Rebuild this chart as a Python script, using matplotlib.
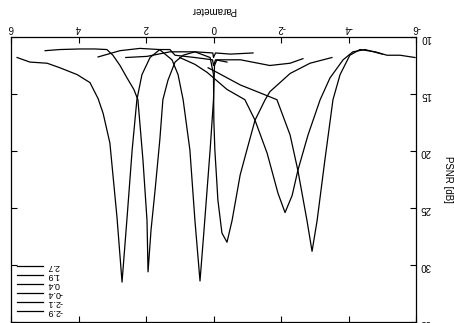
import matplotlib
matplotlib.use('Agg')
from matplotlib import pyplot as plt

# estimated parameter vs PSNR, one curve per true parameter value
labels = ['-2.9', '-2.1', '-0.4', '0.4', '1.9', '2.7']

p_m29 = [0.16, -0.1, -0.79, -1.38, -1.88, -2.27, -2.5, -2.77, -2.92, -3.07, -3.3, -3.54, -3.75, -4.04, -4.34, -4.79, -5.14, -5.53, -5.97]
v_m29 = [12.7, 13.1, 14.2, 14.9, 15.5, 18.6, 21.7, 26.1, 28.8, 26.1, 20.8, 15.5, 13.3, 11.6, 11.1, 11.3, 11.6, 11.6, 11.8]

p_m21 = [1.0, 0.55, 0.19, -0.4, -0.93, -1.23, -1.59, -1.91, -2.12, -2.33, -2.5, -2.8, -3.16, -3.45, -3.84, -4.13, -4.49, -5.0]
v_m21 = [11.8, 12.4, 13.1, 14.6, 15.5, 17.3, 20.2, 23.7, 25.4, 23.9, 21.7, 18.6, 15.5, 13.6, 12.0, 11.3, 11.1, 11.5]

p_m04 = [2.6, 1.97, 1.29, 0.55, 0.1, 0.0, -0.01, -0.04, -0.1, -0.13, -0.25, -0.4, -0.55, -0.79, -0.99, -1.23, -1.53, -1.67, -2.27, -2.86, -3.51]
v_m04 = [11.8, 11.7, 11.3, 11.3, 11.8, 13.3, 17.3, 19.9, 22.8, 24.3, 27.2, 28.0, 26.1, 22.1, 19.9, 17.3, 15.5, 14.8, 13.2, 12.3, 11.8]

p_04 = [3.42, 2.77, 2.18, 1.6, 1.23, 1.05, 0.9, 0.7, 0.55, 0.4, 0.28, 0.1, 0.0, -0.03, -0.1, -0.8, -1.67, -2.27, -2.65]
v_04 = [11.75, 11.2, 11.0, 11.1, 12.0, 13.3, 15.5, 19.9, 26.1, 31.4, 26.9, 19.9, 15.5, 12.5, 12.0, 12.0, 12.5, 12.3, 11.9]

p_19 = [4.99, 4.55, 3.96, 3.51, 3.16, 2.98, 2.77, 2.56, 2.36, 2.24, 2.09, 1.97, 1.94, 1.85, 1.73, 1.59, 1.5, 1.35, 1.14, 0.9, 0.55, 0.02, 0.0, -0.06, -0.5, -1.17]
v_19 = [11.2, 11.1, 11.05, 11.05, 11.1, 11.6, 12.5, 13.6, 14.6, 15.5, 20.8, 26.1, 30.6, 26.9, 23.4, 19.0, 15.5, 13.8, 12.2, 11.6, 11.3, 11.4, 11.8, 11.4, 11.5, 11.4]

p_27 = [5.82, 5.44, 4.93, 4.55, 4.04, 3.66, 3.42, 3.27, 3.07, 2.86, 2.71, 2.56, 2.41, 2.27, 2.12, 1.88, 1.59, 1.29, 1.14, 0.55, 0.03, 0.0, -0.06, -0.4]
v_27 = [11.8, 12.2, 12.3, 12.7, 13.3, 14.0, 15.4, 16.7, 19.3, 25.8, 31.5, 25.8, 19.9, 15.5, 13.3, 11.8, 11.1, 11.1, 11.6, 11.8, 12.0, 12.5, 12.0, 12.2]

series = [(p_m29, v_m29), (p_m21, v_m21), (p_m04, v_m04), (p_04, v_04), (p_19, v_19), (p_27, v_27)]

plt.rcParams['font.family'] = ['Liberation Sans', 'DejaVu Sans']
plt.rcParams['font.size'] = 7
plt.rcParams['axes.unicode_minus'] = False

fig = plt.figure(figsize=(4.54, 3.23), dpi=100)
ax = fig.add_axes([11 / 454, 1 / 323, 405 / 454, 285 / 323])

handles = []
for (p, v), lab in zip(series, labels):
    h, = ax.plot(p, v, color='black', lw=0.9, label=lab)
    handles.append(h)

# the whole chart is shown turned upside down
ax.set_xlim(6, -6)
ax.set_ylim(35, 10)
ax.set_xticks([6, 4, 2, 0, -2, -4, -6])
ax.set_yticks([10, 15, 20, 25, 30, 35])
ax.xaxis.set_ticks_position('both')
ax.yaxis.set_ticks_position('both')
ax.tick_params(axis='both', direction='in', length=4, width=0.8, pad=3)
ax.tick_params(axis='x', labeltop=True, labelbottom=False, labelrotation=180)
ax.tick_params(axis='y', labelright=True, labelleft=False, labelrotation=180)
for s in ax.spines.values():
    s.set_linewidth(0.9)

ax.xaxis.set_label_position('top')
ax.set_xlabel('Parameter', rotation=180, labelpad=7)
ax.yaxis.set_label_position('right')
ax.set_ylabel('PSNR [dB]', rotation=270, labelpad=12, va='center')

leg = ax.legend(handles[::-1], labels[::-1], loc='lower left', frameon=False,
                handlelength=2.9, handletextpad=0.4, labelspacing=0.0,
                borderaxespad=0.4, borderpad=0.3, fontsize=6.5)
for t in leg.get_texts():
    t.set_rotation(180)

fig.savefig('out.png', dpi=100)
